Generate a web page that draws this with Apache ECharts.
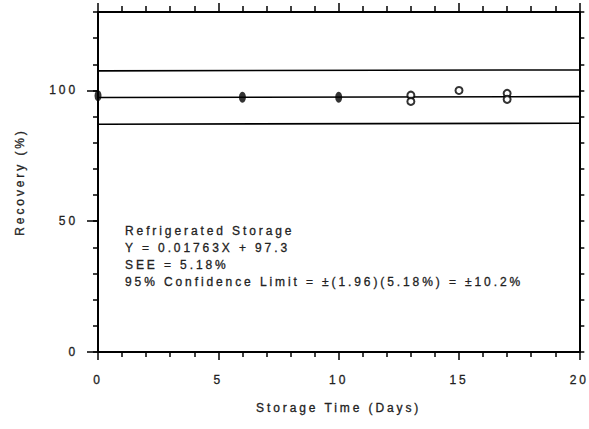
<!DOCTYPE html>
<html><head><meta charset="utf-8">
<script src="https://cdn.jsdelivr.net/npm/echarts@6/dist/echarts.min.js"></script>
<style>
html,body{margin:0;padding:0;background:#fff}
#c{width:589px;height:429px}
#c text{letter-spacing:2.9px;stroke:#222;stroke-width:0.3px}
</style>
</head><body><div id="c"></div>
<script>
// ---- data ----
const filledDays = [0, 6, 10];
const filledRecovery = [98.0, 97.4, 97.4];
const openDays = [13, 13, 15, 17, 17];
const openRecovery = [98.2, 95.8, 100.0, 98.9, 96.6];
const fitDays = [0, 20];
const fitLine = [97.3, 97.65];
const upperLimit = [107.5, 107.85];
const lowerLimit = [87.1, 87.45];
const yLabelTicks = [0, 50, 100];
const notes = [
  'Refrigerated Storage',
  'Y = 0.01763X + 97.3',
  'SEE = 5.18%',
  '95% Confidence Limit = \u00b1(1.96)(5.18%) = \u00b110.2%'
];
const xTitle = 'Storage Time (Days)';
const yTitle = 'Recovery (%)';

const FONT = "'Liberation Sans', Arial, sans-serif";
const TXT = '#222';
const blackLine = { color: '#000', width: 2 };
const tickLine = { color: '#000', width: 1.5 };

function pairs(xs, ys) { return xs.map((x, i) => [x, ys[i]]); }

const chart = echarts.init(document.getElementById('c'), null, { renderer: 'svg' });
chart.setOption({
  animation: false,
  backgroundColor: '#fff',
  grid: { left: 98, right: 9, top: 12, bottom: 77, containLabel: false },
  xAxis: [
    {
      type: 'value', position: 'bottom', min: 0, max: 20, interval: 5,
      axisLine: { show: true, onZero: false, lineStyle: blackLine },
      axisTick: { show: true, inside: false, length: 8, lineStyle: tickLine },
      minorTick: { show: true, splitNumber: 5, length: 5, lineStyle: tickLine },
      splitLine: { show: false }, minorSplitLine: { show: false },
      axisLabel: { show: true, margin: 22, color: TXT, fontSize: 12, fontFamily: FONT },
      name: xTitle, nameLocation: 'middle', nameGap: 50,
      nameTextStyle: { color: TXT, fontSize: 12, fontFamily: FONT }
    },
    {
      type: 'value', position: 'top', min: 0, max: 20, interval: 5,
      axisLine: { show: true, onZero: false, lineStyle: blackLine },
      axisTick: { show: true, inside: false, length: 9, lineStyle: tickLine },
      minorTick: { show: true, splitNumber: 5, length: 6, lineStyle: tickLine },
      splitLine: { show: false }, minorSplitLine: { show: false },
      axisLabel: { show: false }
    }
  ],
  yAxis: [
    {
      type: 'value', position: 'left', min: 0, max: 130, interval: 10,
      axisLine: { show: true, onZero: false, lineStyle: blackLine },
      axisTick: { show: true, inside: false, length: 5, lineStyle: tickLine },
      splitLine: { show: false },
      axisLabel: {
        show: true, margin: 20, color: TXT, fontSize: 12, fontFamily: FONT,
        customValues: yLabelTicks
      },
      name: yTitle, nameLocation: 'middle', nameGap: 72,
      nameTextStyle: { color: TXT, fontSize: 12, fontFamily: FONT }
    },
    {
      type: 'value', position: 'left', min: 0, max: 130, interval: 10,
      axisLine: { show: false, onZero: false },
      axisTick: { show: true, inside: false, length: 11, lineStyle: tickLine, customValues: yLabelTicks },
      splitLine: { show: false },
      axisLabel: { show: false }
    },
    {
      type: 'value', position: 'right', min: 0, max: 130, interval: 10,
      axisLine: { show: true, onZero: false, lineStyle: blackLine },
      axisTick: { show: true, inside: false, length: 5, lineStyle: tickLine },
      splitLine: { show: false },
      axisLabel: { show: false }
    }
  ],
  series: [
    { type: 'line', data: pairs(fitDays, upperLimit), symbol: 'none', lineStyle: { color: '#000', width: 1.6 }, z: 2 },
    { type: 'line', data: pairs(fitDays, fitLine), symbol: 'none', lineStyle: { color: '#000', width: 1.6 }, z: 2 },
    { type: 'line', data: pairs(fitDays, lowerLimit), symbol: 'none', lineStyle: { color: '#000', width: 1.6 }, z: 2 },
    {
      type: 'scatter', data: pairs(filledDays, filledRecovery), symbol: 'circle',
      symbolSize: [7, 11], itemStyle: { color: '#000' }, clip: false, z: 5
    },
    {
      type: 'scatter', data: pairs(openDays, openRecovery), symbol: 'emptyCircle',
      symbolSize: [7, 7], itemStyle: { color: '#000', borderColor: '#000', borderWidth: 1.8 }, z: 5
    }
  ],
  graphic: [
    {
      type: 'text', left: 125, top: 222,
      style: { text: notes.join('\n'), fill: TXT, font: "12px 'Liberation Sans', Arial, sans-serif", lineHeight: 17 }
    }
  ]
});
</script>
</body></html>
